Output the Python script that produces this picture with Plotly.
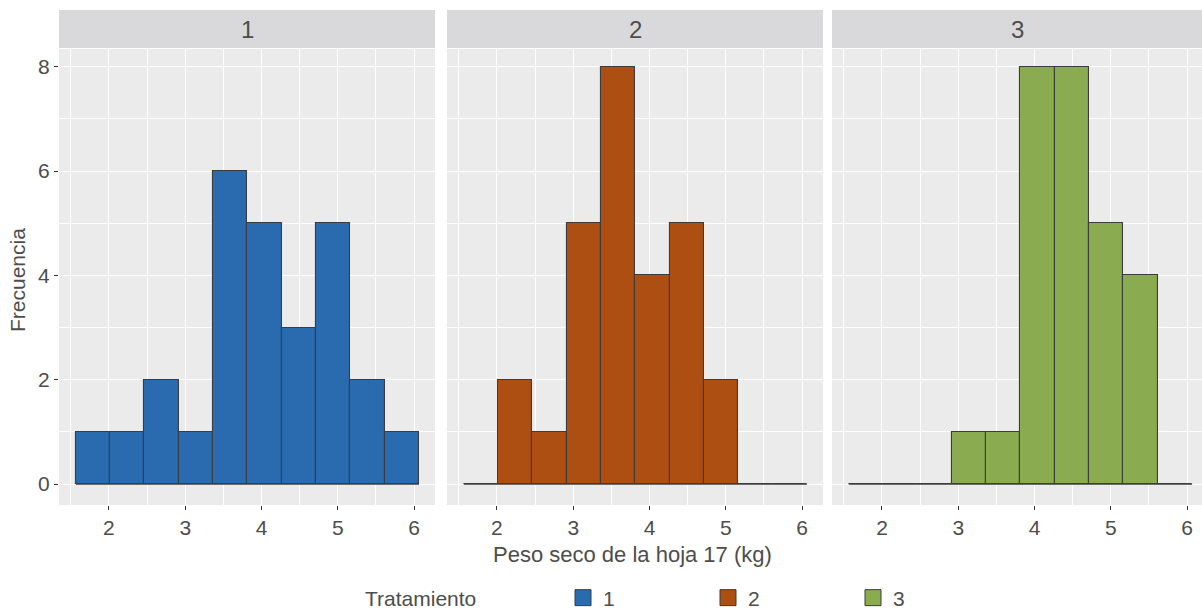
import plotly.graph_objects as go

# Histogram counts of leaf-17 dry weight per treatment (10 equal-width bins)
bin_start = 1.565
bin_width = 0.45
counts_t1 = [1, 1, 2, 1, 6, 5, 3, 5, 2, 1]
counts_t2 = [0, 2, 1, 5, 8, 4, 5, 2, 0, 0]
counts_t3 = [0, 0, 0, 1, 1, 8, 8, 5, 4, 0]
treatments = ["1", "2", "3"]
colors = ["#2A6AAF", "#AD4F12", "#8AAB4F"]

x_ticks = [2, 3, 4, 5, 6]
y_ticks = [0, 2, 4, 6, 8]

n_bins = len(counts_t1)
edges = [bin_start + bin_width * i for i in range(n_bins + 1)]
centers = [bin_start + bin_width * (i + 0.5) for i in range(n_bins)]

FONT = "Liberation Sans"
TXT = "#4D4D4D"
OUTLINE = "#3C3C3C"

W, H = 1202, 611
ML, MR, MT, MB = 59, 0, 10, 106
PW = W - ML - MR
PH = H - MT - MB

def px_x(p):
    return (p - ML) / PW

def px_y(p):
    return (H - MB - p) / PH

panel_px = [(59, 435), (447, 823), (832, 1202)]
x_ranges = [[1.345, 6.275], [1.345, 6.275], [1.345, 6.195]]
panel_top = px_y(49)

fig = go.Figure()
all_counts = [counts_t1, counts_t2, counts_t3]

for k, (name, cnt, col) in enumerate(zip(treatments, all_counts, colors)):
    ax = "" if k == 0 else str(k + 1)
    fig.add_trace(go.Bar(
        x=centers, y=cnt, width=[bin_width] * n_bins,
        marker=dict(color=col, line=dict(color=OUTLINE, width=1.1)),
        xaxis="x" + ax, yaxis="y" + ax, showlegend=False,
        hovertemplate="%{y}<extra></extra>",
    ))
    # baseline outline across all bins (zero-height bins included)
    fig.add_trace(go.Scatter(
        x=[edges[0], edges[-1]], y=[0, 0], mode="lines",
        line=dict(color=OUTLINE, width=1.1),
        xaxis="x" + ax, yaxis="y" + ax, showlegend=False, hoverinfo="skip",
    ))
    # legend key
    fig.add_trace(go.Scatter(
        x=[None], y=[None], mode="markers", name=name,
        marker=dict(symbol="square", size=16, color=col,
                    line=dict(color=OUTLINE, width=1)),
        xaxis="x" + ax, yaxis="y" + ax,
    ))

layout = dict(
    width=W, height=H,
    margin=dict(l=ML, r=MR, t=MT, b=MB, pad=0),
    paper_bgcolor="white", plot_bgcolor="#EBEBEB",
    font=dict(family=FONT, color=TXT, size=21),
    bargap=0,
    legend=dict(
        orientation="h", xref="container", yref="container",
        x=563 / W, xanchor="left",
        y=(H - 598) / H, yanchor="middle",
        itemsizing="trace", entrywidth=100, entrywidthmode="pixels",
        font=dict(size=21, color=TXT), bgcolor="rgba(0,0,0,0)",
    ),
)

for k in range(3):
    ax = "" if k == 0 else str(k + 1)
    x0, x1 = panel_px[k]
    layout["xaxis" + ax] = dict(
        domain=[px_x(x0), px_x(x1)], range=x_ranges[k], anchor="y" + ax,
        tickmode="array", tickvals=x_ticks, ticktext=[str(t) for t in x_ticks],
        ticks="outside", ticklen=4, tickwidth=1.2, tickcolor="#333333",
        tickfont=dict(size=21, color=TXT),
        showgrid=True, gridcolor="white", gridwidth=1.3,
        minor=dict(dtick=0.5, tick0=0, showgrid=True, gridcolor="white", gridwidth=0.6),
        zeroline=False, showline=False, fixedrange=True,
    )
    layout["yaxis" + ax] = dict(
        domain=[0, panel_top], range=[-0.4, 8.34], anchor="x" + ax,
        tickmode="array", tickvals=y_ticks, ticktext=[str(t) for t in y_ticks],
        ticks="outside" if k == 0 else "", ticklen=4, tickwidth=1.2, tickcolor="#333333",
        showticklabels=(k == 0),
        tickfont=dict(size=21, color=TXT),
        showgrid=True, gridcolor="white", gridwidth=1.3,
        minor=dict(dtick=1, tick0=0, showgrid=True, gridcolor="white", gridwidth=0.6),
        zeroline=False, showline=False, fixedrange=True,
    )
fig.update_layout(**layout)

shapes = []
annotations = []
for k, name in enumerate(treatments):
    ax = "x" if k == 0 else "x" + str(k + 1)
    shapes.append(dict(
        type="rect", xref=ax + " domain", yref="paper",
        x0=0, x1=1, y0=px_y(48), y1=px_y(10),
        fillcolor="#D9D9DB", line=dict(width=0), layer="below",
    ))
    annotations.append(dict(
        text=name, xref=ax + " domain", yref="paper",
        x=0.5, y=px_y(29), showarrow=False,
        font=dict(size=24, color=TXT), xanchor="center", yanchor="middle",
    ))

annotations.append(dict(
    text="Peso seco de la hoja 17 (kg)", xref="paper", yref="paper",
    x=px_x(633), y=px_y(554), showarrow=False,
    font=dict(size=22, color=TXT), xanchor="center", yanchor="middle",
))
annotations.append(dict(
    text="Frecuencia", xref="paper", yref="paper",
    x=px_x(17), y=px_y(280), showarrow=False, textangle=-90,
    font=dict(size=21, color=TXT), xanchor="center", yanchor="middle",
))
annotations.append(dict(
    text="Tratamiento", xref="paper", yref="paper",
    x=px_x(363), y=px_y(598), showarrow=False,
    font=dict(size=21, color=TXT), xanchor="left", yanchor="middle",
))
fig.update_layout(shapes=shapes, annotations=annotations)

fig.write_html("out.html")
